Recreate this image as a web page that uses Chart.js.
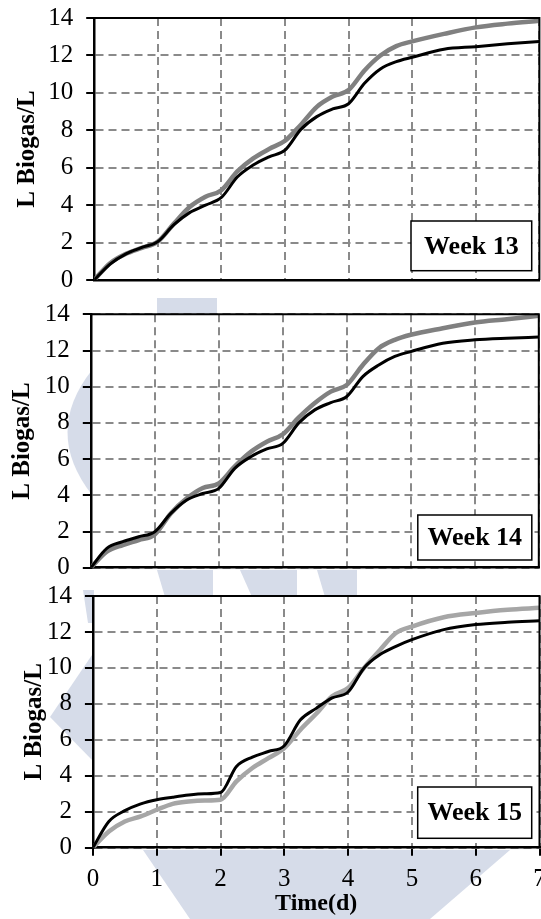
<!DOCTYPE html>
<html>
<head>
<meta charset="utf-8">
<script src="https://cdn.jsdelivr.net/npm/chart.js@4.4.1/dist/chart.umd.min.js"></script>
<style>
  html, body { margin: 0; padding: 0; background: #fff; }
  #page { position: relative; width: 541px; height: 919px; overflow: hidden; background: #fff; }
  #mark { position: absolute; left: 0; top: 0; }
  .panel { position: absolute; left: 0; width: 541px; }
  .panel canvas { display: block; }
</style>
</head>
<body>
<div id="page">
  <!-- faint background emblem -->
  <svg id="mark" width="541" height="919" viewBox="0 0 541 919">
    <g fill="#d6dce9">
      <path d="M92,370 Q43,432 92,495 Z"/>
      <rect x="157" y="298" width="60" height="17"/>
      <polygon points="157,570 213,570 213,597 165,597"/>
      <polygon points="240,570 297,570 297,597 252,597"/>
      <polygon points="317,570 357,570 357,597 325,597"/>
      <polygon points="83,590 94,590 94,623 88,623"/>
      <polygon points="94,652 50,717 94,762"/>
      <polygon points="143,850 510,850 430,919 190,919"/>
    </g>
  </svg>
  <div class="panel" style="top:0px;height:292px"><canvas id="week13" width="541" height="292"></canvas></div>
  <div class="panel" style="top:296px;height:280px"><canvas id="week14" width="541" height="280"></canvas></div>
  <div class="panel" style="top:578px;height:341px"><canvas id="week15" width="541" height="341"></canvas></div>
</div>
<script>
// Sampling times (days)
const days = [0, 0.25, 0.5, 0.75, 1, 1.25, 1.5, 1.75, 2, 2.25, 2.5, 2.75, 3, 3.25, 3.5, 3.75, 4, 4.25, 4.5, 4.75, 5, 5.5, 6, 6.5, 7];

// Cumulative biogas (L Biogas/L), black and grey curves per week
const week13Black = [0, 0.85, 1.40, 1.74, 2.05, 2.94, 3.60, 4.00, 4.41, 5.50, 6.14, 6.58, 6.94, 8.05, 8.73, 9.14, 9.42, 10.51, 11.28, 11.67, 11.90, 12.33, 12.47, 12.62, 12.74];
const week13Grey  = [0, 0.90, 1.40, 1.72, 2.05, 3.00, 3.90, 4.45, 4.80, 5.80, 6.50, 7.00, 7.44, 8.30, 9.25, 9.80, 10.15, 11.20, 12.00, 12.50, 12.75, 13.15, 13.50, 13.70, 13.85];

const week14Black = [0, 1.07, 1.44, 1.71, 1.99, 3.00, 3.74, 4.10, 4.38, 5.49, 6.13, 6.56, 6.87, 8.00, 8.72, 9.12, 9.46, 10.56, 11.20, 11.67, 11.94, 12.40, 12.59, 12.68, 12.74];
const week14Grey  = [0, 0.88, 1.25, 1.53, 1.84, 3.00, 3.83, 4.40, 4.66, 5.60, 6.40, 6.96, 7.37, 8.30, 9.10, 9.73, 10.10, 11.20, 12.13, 12.59, 12.87, 13.23, 13.55, 13.73, 13.92];

const week15Black = [0, 1.46, 2.06, 2.44, 2.67, 2.81, 2.93, 3.00, 3.07, 4.52, 5.04, 5.35, 5.67, 7.10, 7.75, 8.33, 8.66, 10.00, 10.74, 11.20, 11.57, 12.13, 12.41, 12.54, 12.63];
const week15Grey  = [0, 0.90, 1.46, 1.74, 2.11, 2.44, 2.57, 2.63, 2.67, 3.69, 4.43, 4.98, 5.54, 6.55, 7.45, 8.42, 8.88, 10.00, 11.00, 11.94, 12.30, 12.82, 13.06, 13.24, 13.34];

// Axis ticks
const xTicks = [0, 1, 2, 3, 4, 5, 6, 7];
const yTicks = [0, 2, 4, 6, 8, 10, 12, 14];

const weekLabels = ['Week 13', 'Week 14', 'Week 15'];
const yTitle = 'L Biogas/L';
const xTitle = 'Time(d)';

const SERIF = "'Liberation Serif', 'Times New Roman', serif";
Chart.defaults.font.family = SERIF;
Chart.defaults.color = '#000';

const toPoints = (ys) => days.map((d, i) => ({ x: d, y: ys[i] }));

// White plot area, outer frame and the week tag box
const panelDecor = {
  id: 'panelDecor',
  beforeDraw(chart) {
    const { ctx, chartArea: a } = chart;
    ctx.save();
    ctx.fillStyle = '#fff';
    ctx.fillRect(a.left, a.top, a.right - a.left, a.bottom - a.top);
    ctx.restore();
  },
  afterDraw(chart, args, o) {
    const { ctx, chartArea: a } = chart;
    ctx.save();
    ctx.strokeStyle = '#000';
    ctx.lineWidth = 2;
    ctx.beginPath();
    ctx.moveTo(a.left, a.top);
    ctx.lineTo(a.right, a.top);
    ctx.lineTo(a.right, a.bottom);
    ctx.stroke();
    // week tag
    const x1 = a.right - o.boxRight, y1 = a.bottom - o.boxBottom;
    const x0 = x1 - o.boxW, y0 = y1 - o.boxH;
    ctx.fillStyle = '#fff';
    ctx.fillRect(x0, y0, o.boxW, o.boxH);
    ctx.lineWidth = 1.5;
    ctx.strokeRect(x0, y0, o.boxW, o.boxH);
    ctx.fillStyle = '#000';
    ctx.font = 'bold 26px ' + SERIF;
    ctx.textAlign = 'center';
    ctx.textBaseline = 'middle';
    ctx.fillText(o.label, (x0 + x1) / 2, (y0 + y1) / 2 + 1);
    ctx.restore();
  }
};

function makePanel(id, black, grey, greyColor, geo) {
  const showX = geo.showX;
  new Chart(document.getElementById(id), {
    type: 'line',
    data: {
      datasets: [
        { data: toPoints(grey), borderColor: greyColor, borderWidth: 4.5, pointRadius: 0, cubicInterpolationMode: 'monotone', order: 2 },
        { data: toPoints(black), borderColor: '#000', borderWidth: 3, pointRadius: 0, cubicInterpolationMode: 'monotone', order: 1 }
      ]
    },
    options: {
      responsive: false,
      devicePixelRatio: 1,
      animation: false,
      events: [],
      layout: { padding: { top: geo.top, right: geo.right, left: 0, bottom: 0 } },
      plugins: {
        legend: { display: false },
        tooltip: { enabled: false },
        panelDecor: { label: geo.label, boxW: geo.boxW, boxH: geo.boxH, boxRight: geo.boxRight, boxBottom: geo.boxBottom }
      },
      scales: {
        x: {
          type: 'linear', min: 0, max: 7,
          afterBuildTicks: (s) => { s.ticks = xTicks.map(v => ({ value: v })); },
          afterFit: (s) => { s.height = geo.xHeight; s.paddingLeft = 0; s.paddingRight = 0; },
          grid: { color: '#8a8a8a', lineWidth: 2, drawTicks: showX, tickLength: 8, tickColor: '#000', tickWidth: 2 },
          border: { display: true, color: '#000', width: 2.5, dash: [8, 5] },
          ticks: { display: showX, padding: 9, font: { size: 25 }, maxRotation: 0 },
          title: { display: showX, text: xTitle, font: { size: 24, weight: 'bold' }, padding: { top: 0, bottom: 1 } }
        },
        y: {
          min: 0, max: 14,
          afterBuildTicks: (s) => { s.ticks = yTicks.map(v => ({ value: v })); },
          afterFit: (s) => { s.width = geo.left; s.paddingTop = 0; s.paddingBottom = 0; },
          grid: { color: '#8a8a8a', lineWidth: 2, drawTicks: true, tickLength: 8, tickColor: '#000', tickWidth: 2 },
          border: { display: true, color: '#000', width: 2.5, dash: [8, 5] },
          ticks: { padding: 13, font: { size: 25 } },
          title: { display: true, text: yTitle, font: { size: 25, weight: 'bold' }, padding: { top: geo.titlePad, bottom: 0 } }
        }
      }
    },
    plugins: [panelDecor]
  });
}

makePanel('week13', week13Black, week13Grey, '#808080',
  { label: weekLabels[0], top: 18, right: 1.6, left: 94.2, xHeight: 12, showX: false, titlePad: 13,
    boxW: 120.7, boxH: 49.7, boxRight: 7.7, boxBottom: 9.3 });
makePanel('week14', week14Black, week14Grey, '#808080',
  { label: weekLabels[1], top: 18.3, right: 2.2, left: 90.8, xHeight: 8.3, showX: false, titlePad: 8,
    boxW: 114, boxH: 45, boxRight: 7, boxBottom: 7.7 });
makePanel('week15', week15Black, week15Grey, '#a6a6a6',
  { label: weekLabels[2], top: 18, right: 1.5, left: 92.9, xHeight: 71.3, showX: true, titlePad: 20,
    boxW: 114, boxH: 51.3, boxRight: 7.8, boxBottom: 9.4 });
</script>
</body>
</html>
